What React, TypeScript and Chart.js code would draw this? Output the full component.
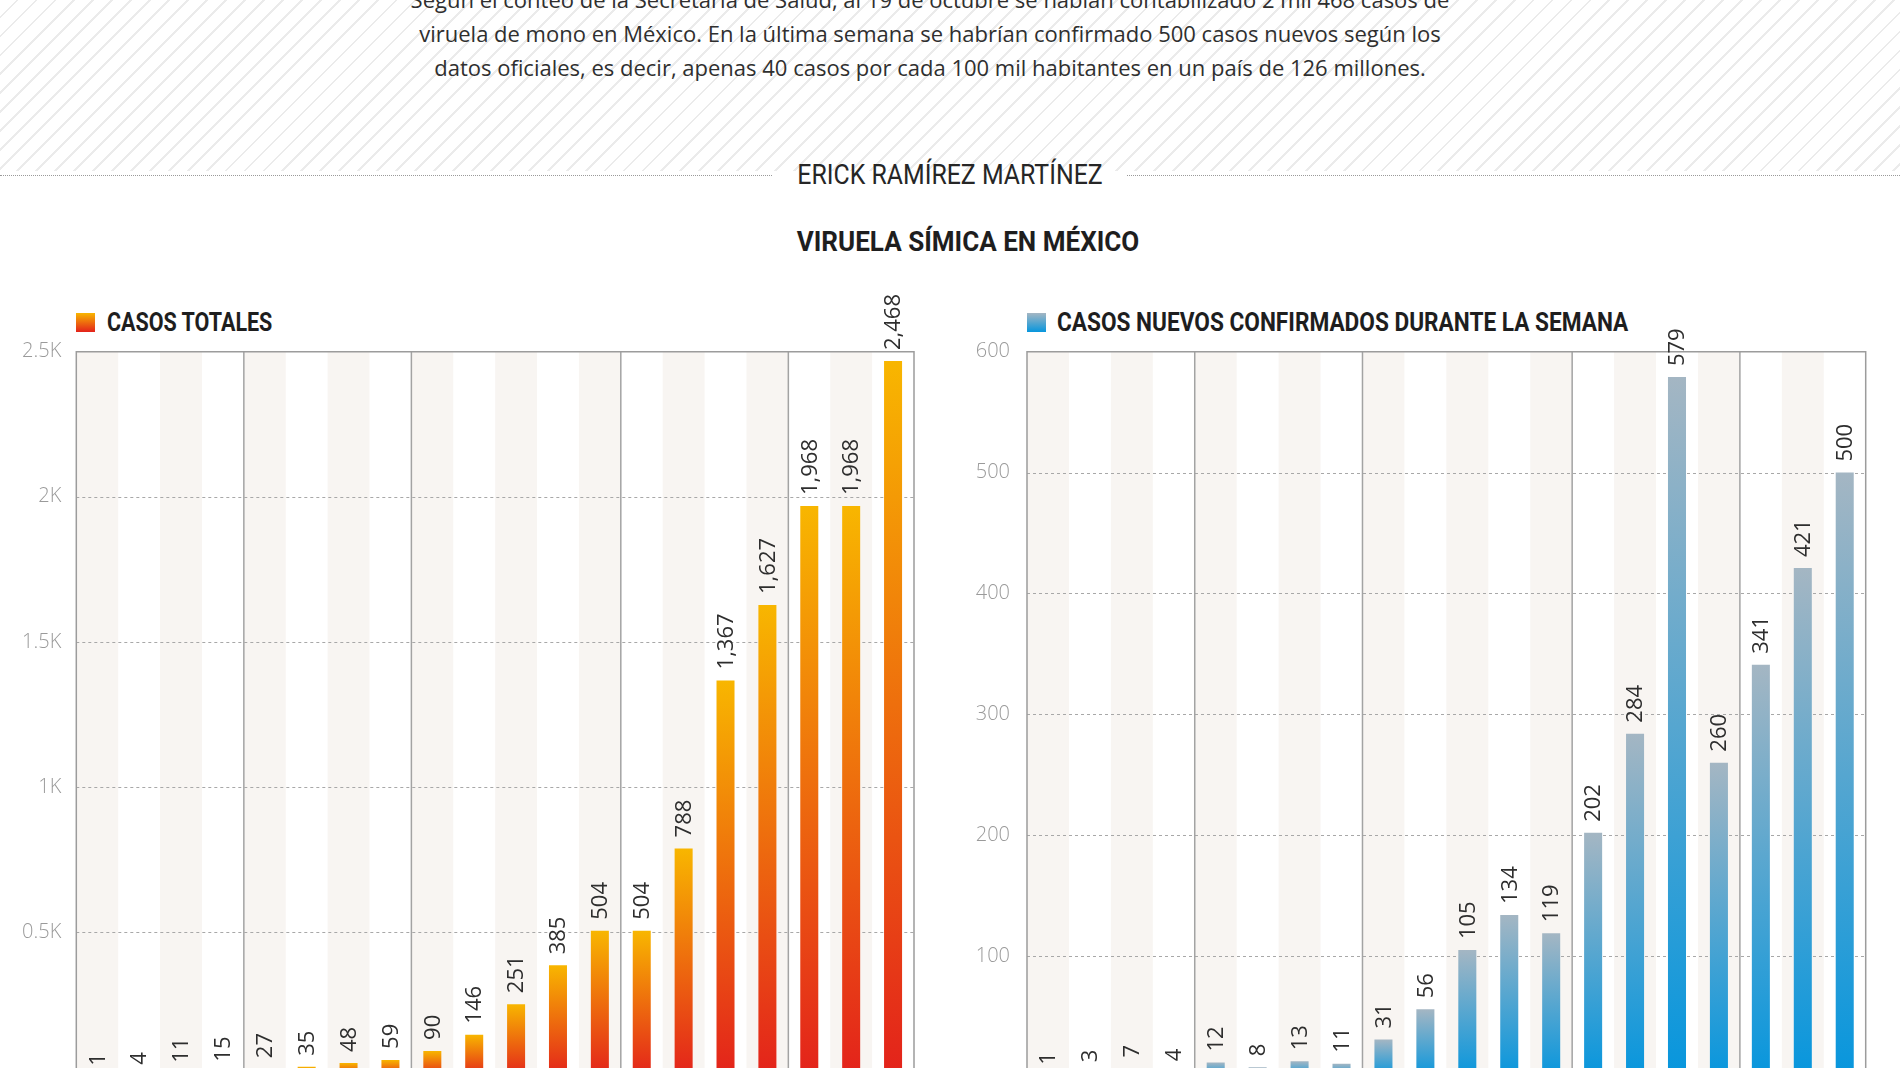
import React, { useEffect, useRef } from "react";
import { Chart, registerables } from "chart.js";

Chart.register(...registerables);

// ---------- data ----------
const weekLabels = [
  "8 JUN", "15 JUN", "22 JUN", "29 JUN",
  "6 JUL", "13 JUL", "20 JUL", "27 JUL",
  "3 AGO", "10 AGO", "17 AGO", "24 AGO", "31 AGO",
  "7 SEP", "14 SEP", "21 SEP", "28 SEP",
  "5 OCT", "12 OCT", "19 OCT",
];
const totalCases = [1, 4, 11, 15, 27, 35, 48, 59, 90, 146, 251, 385, 504, 504, 788, 1367, 1627, 1968, 1968, 2468];
const newCases = [1, 3, 7, 4, 12, 8, 13, 11, 31, 56, 105, 134, 119, 202, 284, 579, 260, 341, 421, 500];
const totalAxisMax = 2500;
const totalAxisStep = 500;
const newAxisMax = 600;
const newAxisStep = 100;

const introLines = [
  "Según el conteo de la Secretaría de Salud, al 19 de octubre se habían contabilizado 2 mil 468 casos de",
  "viruela de mono en México. En la última semana se habrían confirmado 500 casos nuevos según los",
  "datos oficiales, es decir, apenas 40 casos por cada 100 mil habitantes en un país de 126 millones.",
];
const author = "ERICK RAMÍREZ MARTÍNEZ";
const title = "VIRUELA SÍMICA EN MÉXICO";
const totalLegend = "CASOS TOTALES";
const newLegend = "CASOS NUEVOS CONFIRMADOS DURANTE LA SEMANA";

const HEAD_FONT = '"Roboto", "Noto Sans", sans-serif';
const BODY_FONT = '"Open Sans", "Noto Sans", sans-serif';

// ---------- plugins ----------
const framePlugin = {
  id: "frame",
  beforeDatasetsDraw(chart: any) {
    const { ctx, chartArea, scales } = chart;
    const { left, right, top, bottom } = chartArea;
    const x = scales.x;
    const y = scales.y;
    const labels: string[] = chart.data.labels;
    const n = labels.length;
    const edge = (i: number) => {
      if (i <= 0) return left;
      if (i >= n) return right;
      return (x.getPixelForValue(i - 1) + x.getPixelForValue(i)) / 2;
    };
    ctx.save();
    // stripes
    ctx.fillStyle = "#f8f5f2";
    for (let i = 0; i < n; i += 2) {
      const x0 = edge(i);
      const x1 = edge(i + 1);
      ctx.fillRect(x0, top, x1 - x0, bottom - top);
    }
    // dotted gridlines
    ctx.strokeStyle = "#a8a8a8";
    ctx.lineWidth = 1;
    ctx.setLineDash([3, 3]);
    y.ticks.forEach((t: any) => {
      if (t.value >= y.max) return;
      const py = Math.round(y.getPixelForValue(t.value)) + 0.5;
      ctx.beginPath();
      ctx.moveTo(left, py);
      ctx.lineTo(right, py);
      ctx.stroke();
    });
    ctx.setLineDash([]);
    // month separators
    ctx.strokeStyle = "#a3a3a3";
    ctx.lineWidth = 1.5;
    for (let i = 1; i < n; i++) {
      const mPrev = labels[i - 1].split(" ")[1];
      const mCur = labels[i].split(" ")[1];
      if (mPrev !== mCur) {
        const px = edge(i);
        ctx.beginPath();
        ctx.moveTo(px, top);
        ctx.lineTo(px, bottom);
        ctx.stroke();
      }
    }
    // frame
    ctx.strokeStyle = "#9c9c9c";
    ctx.lineWidth = 1.5;
    ctx.beginPath();
    ctx.moveTo(left, bottom);
    ctx.lineTo(left, top);
    ctx.lineTo(right, top);
    ctx.lineTo(right, bottom);
    ctx.stroke();
    ctx.restore();
  },
};

const valueLabelPlugin = {
  id: "valueLabels",
  afterDatasetsDraw(chart: any) {
    const { ctx } = chart;
    const meta = chart.getDatasetMeta(0);
    const data: number[] = chart.data.datasets[0].data;
    ctx.save();
    ctx.fillStyle = "#2e2e2e";
    ctx.font = '400 22px "Open Sans", "Noto Sans", sans-serif';
    ctx.textAlign = "left";
    ctx.textBaseline = "middle";
    meta.data.forEach((bar: any, i: number) => {
      const txt = data[i].toLocaleString("en-US");
      ctx.save();
      ctx.translate(bar.x + 1, bar.y - 11);
      ctx.rotate(-Math.PI / 2);
      ctx.fillText(txt, 0, 0);
      ctx.restore();
    });
    ctx.restore();
  },
};

type BarProps = {
  values: number[];
  max: number;
  step: number;
  fmt: (v: number) => string;
  colTop: string;
  colBottom: string;
  axisWidth: number;
  padRight: number;
  tickPad: number;
  left: number;
};

function BarChart(p: BarProps) {
  const ref = useRef<HTMLCanvasElement>(null);
  useEffect(() => {
    if (!ref.current) return;
    const chart = new Chart(ref.current, {
      type: "bar",
      data: {
        labels: weekLabels,
        datasets: [
          {
            data: p.values,
            barPercentage: 0.43,
            categoryPercentage: 1,
            backgroundColor: (c: any) => {
              const ch = c.chart;
              const ys = ch.scales && ch.scales.y;
              if (!ch.chartArea || !ys || c.raw === undefined) return p.colBottom;
              const yTop = ys.getPixelForValue(c.raw);
              const yBot = ys.getPixelForValue(0);
              const g = ch.ctx.createLinearGradient(0, yTop, 0, yBot + 0.01);
              g.addColorStop(0, p.colTop);
              g.addColorStop(1, p.colBottom);
              return g;
            },
          },
        ],
      },
      options: {
        responsive: false,
        maintainAspectRatio: false,
        animation: false,
        layout: { padding: { left: 0, top: 61.7, right: p.padRight, bottom: 73 } },
        plugins: { legend: { display: false }, tooltip: { enabled: false } },
        scales: {
          x: {
            display: false,
            offset: true,
            grid: { display: false },
          },
          y: {
            min: 0,
            max: p.max,
            afterFit: (s: any) => {
              s.width = p.axisWidth;
            },
            grid: { display: false, drawTicks: false },
            border: { display: false },
            ticks: {
              stepSize: p.step,
              padding: p.tickPad,
              color: "#9a9a9a",
              font: { family: '"Open Sans", "Noto Sans", sans-serif', size: 20, weight: 300 as any },
              callback: (v: any) => (Number(v) === 0 ? "" : p.fmt(Number(v))),
            },
          },
        },
      },
      plugins: [framePlugin, valueLabelPlugin],
    });
    return () => chart.destroy();
  }, []);
  return (
    <canvas
      ref={ref}
      width={950}
      height={860}
      style={{ position: "absolute", left: p.left, top: 290, width: 950, height: 860 }}
    />
  );
}

const abs = (o: any) => ({ position: "absolute" as const, margin: 0, whiteSpace: "nowrap" as const, ...o });

export default function App() {
  return (
    <div
      style={{
        position: "absolute",
        left: 0,
        top: 0,
        width: 1900,
        height: 1068,
        overflow: "hidden",
        background: "#ffffff",
      }}
    >
      <div
        style={abs({
          left: 0,
          top: 0,
          width: 1900,
          height: 171,
          background:
            "repeating-linear-gradient(135deg, #ffffff 0px, #ffffff 11.4px, #ebebeb 11.4px, #ebebeb 13.4px)",
        })}
      />
      <div
        style={abs({
          left: 0,
          top: -18,
          width: 1860,
          textAlign: "center",
          fontFamily: BODY_FONT,
          fontSize: 22,
          lineHeight: "34px",
          color: "#2f2f2f",
        })}
      >
        {introLines.map((l, i) => (
          <div key={i}>{l}</div>
        ))}
      </div>
      <div style={abs({ left: 0, top: 175, width: 772, borderTop: "1px dotted #9a9a9a" })} />
      <div style={abs({ left: 1127, top: 175, width: 773, borderTop: "1px dotted #9a9a9a" })} />
      <div
        style={abs({
          left: 0,
          top: 162,
          width: 1900,
          textAlign: "center",
          fontFamily: HEAD_FONT,
          fontSize: 27,
          lineHeight: "27px",
          color: "#262626",
          transform: "scaleX(0.92)",
          transformOrigin: "950px 0",
        })}
      >
        {author}
      </div>
      <div
        style={abs({
          left: 0,
          top: 228,
          width: 1936,
          textAlign: "center",
          fontFamily: HEAD_FONT,
          fontWeight: 700,
          fontSize: 28,
          lineHeight: "28px",
          color: "#1e1e1e",
          transform: "scaleX(0.93)",
          transformOrigin: "968px 0",
        })}
      >
        {title}
      </div>

      {/* legends */}
      <div
        style={abs({
          left: 76,
          top: 313,
          width: 19,
          height: 19,
          background: "linear-gradient(180deg, #f8b600, #e3221b)",
        })}
      />
      <div
        style={abs({
          left: 107,
          top: 310,
          fontFamily: HEAD_FONT,
          fontWeight: 700,
          fontSize: 25,
          lineHeight: "25px",
          color: "#1e1e1e",
          transform: "scaleX(0.86)",
          transformOrigin: "0 0",
        })}
      >
        {totalLegend}
      </div>
      <div
        style={abs({
          left: 1027,
          top: 313,
          width: 19,
          height: 19,
          background: "linear-gradient(180deg, #a4b6c3, #0796dd)",
        })}
      />
      <div
        style={abs({
          left: 1057,
          top: 310,
          fontFamily: HEAD_FONT,
          fontWeight: 700,
          fontSize: 25,
          lineHeight: "25px",
          color: "#1e1e1e",
          transform: "scaleX(0.905)",
          transformOrigin: "0 0",
        })}
      >
        {newLegend}
      </div>

      <BarChart
        values={totalCases}
        max={totalAxisMax}
        step={totalAxisStep}
        fmt={(v) => v / 1000 + "K"}
        colTop="#f8b600"
        colBottom="#e3221b"
        axisWidth={76.3}
        padRight={36}
        tickPad={15}
        left={0}
      />
      <BarChart
        values={newCases}
        max={newAxisMax}
        step={newAxisStep}
        fmt={(v) => String(v)}
        colTop="#a4b6c3"
        colBottom="#0796dd"
        axisWidth={77}
        padRight={34.3}
        tickPad={17}
        left={950}
      />
    </div>
  );
}
